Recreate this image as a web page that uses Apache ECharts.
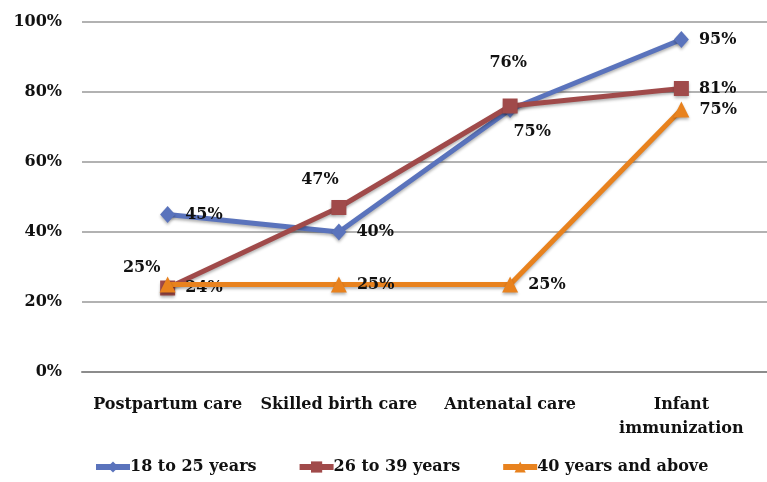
<!DOCTYPE html>
<html><head><meta charset="utf-8">
<script src="https://cdn.jsdelivr.net/npm/echarts@6/dist/echarts.min.js"></script>
<style>html,body{margin:0;padding:0;background:#fff}#c{width:767px;height:482px}</style>
</head><body><div id="c"></div>
<script>
const categories = ['Postpartum care', 'Skilled birth care', 'Antenatal care', 'Infant\nimmunization'];
const seriesNames = ['18 to 25 years', '26 to 39 years', '40 years and above'];
const young = [45, 40, 75, 95];
const middle = [24, 47, 76, 81];
const older = [25, 25, 25, 75];
const yTicks = [0, 20, 40, 60, 80, 100];

const FONT = 'DejaVu Serif';
const FW = 'bold';
const FS = 16;
const colors = ['#5A73BC', '#A04A4A', '#E8821E'];
const symbols = ['diamond', 'rect', 'triangle'];
const symSizes = [[15, 17], 15, 16];
// label placement per point: null = right, otherwise [dx, dy] offset from point centre
const labelPlace = [
  [null, null, [22, 22], null],
  [null, [-19, -28], [-2, -43], null],
  [[-26, -17], null, null, null]
];
const values = [young, middle, older];

const series = values.map((vals, si) => ({
  name: seriesNames[si],
  type: 'line',
  data: vals.map((v, i) => {
    const p = labelPlace[si][i];
    const item = { value: v };
    if (p) item.label = { position: 'inside', offset: p };
    return item;
  }),
  symbol: symbols[si],
  symbolSize: symSizes[si],
  lineStyle: { width: 5, color: colors[si], shadowBlur: 3, shadowColor: 'rgba(0,0,0,0.3)', shadowOffsetY: 2 },
  itemStyle: { color: colors[si], shadowBlur: 3, shadowColor: 'rgba(0,0,0,0.3)', shadowOffsetY: 2 },
  label: {
    show: true, position: 'right', distance: 10,
    formatter: '{c}%', fontFamily: FONT, fontWeight: FW, fontSize: FS, color: '#111'
  },
  emphasis: { disabled: true },
  z: 3 + si
}));

const chart = echarts.init(document.getElementById('c'), null, { renderer: 'canvas' });
chart.setOption({
  animation: false,
  backgroundColor: '#fff',
  grid: { left: 82, right: -3, top: 22, bottom: 110, containLabel: false },
  xAxis: {
    type: 'category', data: categories, boundaryGap: true,
    axisLine: { lineStyle: { color: '#8c8c8c', width: 2 } },
    axisTick: { show: false },
    axisLabel: { fontFamily: FONT, fontWeight: FW, fontSize: FS, color: '#111', margin: 21, lineHeight: 24, interval: 0 }
  },
  yAxis: {
    type: 'value', min: yTicks[0], max: yTicks[yTicks.length - 1], interval: 20,
    axisLine: { show: false }, axisTick: { show: false },
    splitLine: { lineStyle: { color: '#999', width: 1.5 } },
    axisLabel: { fontFamily: FONT, fontWeight: FW, fontSize: FS, color: '#111', margin: 20, formatter: '{value}%' }
  },
  legend: {
    data: seriesNames, bottom: 2, left: 88,
    itemWidth: 34, itemHeight: 14, itemGap: 40,
    lineStyle: { width: 6 },
    textStyle: { fontFamily: FONT, fontWeight: FW, fontSize: FS, color: '#111', padding: [0, 0, 0, -5] }
  },
  series: series
});
</script></body></html>
